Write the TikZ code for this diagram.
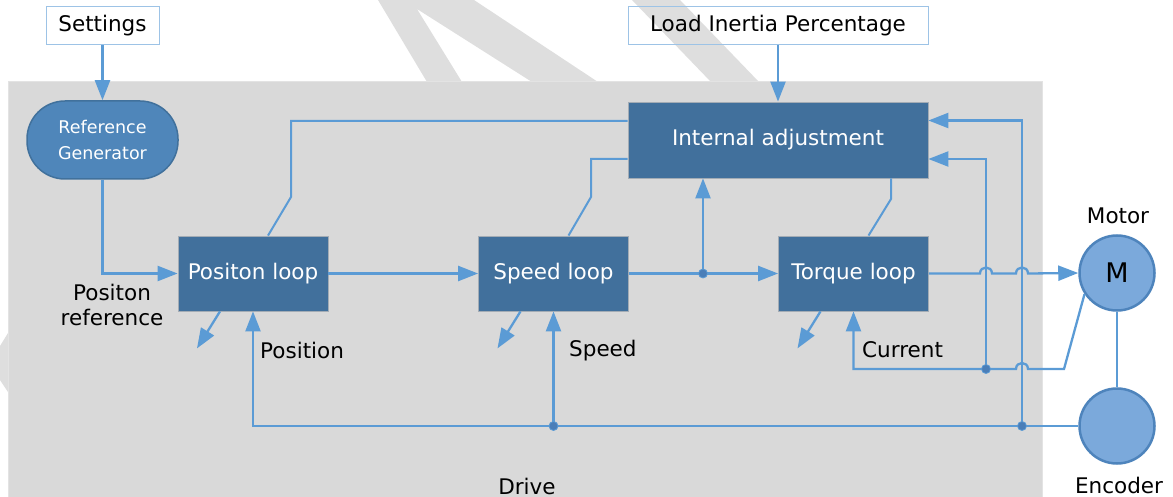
\documentclass[tikz,border=0pt]{standalone}
\usepackage{fontspec}
\setmainfont{DejaVu Sans}
\usetikzlibrary{arrows.meta,calc}
\definecolor{panelc}{HTML}{D9D9D9}
\definecolor{paneledge}{HTML}{E3E3E3}
\definecolor{boxblue}{HTML}{41709C}
\definecolor{boxedge}{HTML}{A3ACB5}
\definecolor{rgblue}{HTML}{4F86BA}
\definecolor{rgedge}{HTML}{41719C}
\definecolor{conn}{HTML}{5B9BD5}
\definecolor{motorfill}{HTML}{7BA9DB}
\definecolor{motoredge}{HTML}{4E84BC}
\definecolor{dotc}{HTML}{4A7EB8}
\definecolor{wm}{HTML}{DEDEDE}
\definecolor{inedge}{HTML}{9DC3E6}
\tikzset{
  txt/.style={font=\fontsize{21.5}{25}\selectfont, text=black, inner sep=0pt},
  loopbox/.style={draw=boxedge, line width=0.8pt, fill=boxblue, text=white,
    minimum width=150pt, minimum height=75pt, inner sep=0pt,
    font=\fontsize{21.5}{25}\selectfont},
  inbox/.style={draw=inedge, line width=1pt, minimum height=38pt, inner sep=0pt,
    font=\fontsize{21.5}{25}\selectfont},
  wheel/.style={circle, draw=motoredge, line width=2.5pt, fill=motorfill,
    minimum size=75pt, inner sep=0pt, font=\fontsize{27}{30}\selectfont},
  wire/.style={draw=conn, line width=2.3pt},
  arr/.style={wire, -{Triangle[length=20pt,width=15pt]}},
  link/.style={draw=conn, line width=2pt},
  dot/.style={fill=dotc, draw=conn, line width=0.8pt}
}
\begin{document}
\begin{tikzpicture}[x=1pt,y=-1pt]
\useasboundingbox (0,0) rectangle (1173,497);
% watermark bands
\fill[wm] (378,0) -- (474,0) -- (598,82) -- (532,82) -- (417,9) -- (462,82) -- (427,82) -- cycle;
\fill[wm] (632,0) -- (680,0) -- (759,82) -- (711,82) -- cycle;
\fill[wm] (8,333) -- (0,346) -- (0,380) -- (8,392) -- cycle;
% drive panel
\fill[panelc] (8,82) rectangle (1042,500);
\draw[paneledge, line width=1pt] (8,500) -- (8,82) -- (1042,82) -- (1042,500);

% nodes
\node[inbox, minimum width=113pt] (set) at (102.5,26) {Settings};
\node[inbox, minimum width=300pt] (lip) at (778,26) {Load Inertia Percentage};
\node[draw=rgedge, line width=1.5pt, fill=rgblue, text=white, rounded corners=38pt,
  minimum width=151pt, minimum height=78pt, inner sep=0pt, align=center,
  font=\fontsize{17.5}{26}\selectfont] (rg) at (102.5,140) {Reference\\Generator};
\node[loopbox, minimum width=300pt, minimum height=76pt] (ia) at (778,140) {Internal adjustment};
\node[loopbox] (pos) at (253,273.5) {Positon loop};
\node[loopbox] (spd) at (553.5,273.5) {Speed loop};
\node[loopbox] (trq) at (853.5,273.5) {Torque loop};
\node[wheel] (motor) at (1117,273) {M};
\node[wheel] (enc) at (1117,426) {};

% labels
\node[txt] (motorlbl) at (1118,216) {Motor};
\node[txt] (enclbl) at (1119,485) {Encoder};
\node[txt] (drivelbl) at (527,486) {Drive};
\node[txt, align=center] (preflbl) at (112,304.5) {Positon\\reference};
\node[txt, anchor=west] (poslbl) at (260,350) {Position};
\node[txt, anchor=west] (spdlbl) at (569,351) {Speed};
\node[txt, anchor=west] (curlbl) at (862,350) {Current};

% junction coordinates
\coordinate (j1) at (703,273.5);
\coordinate (jc) at (986,369);
\coordinate (je) at (1022,426);
\coordinate (js) at (553.5,426);

% forward path
\draw[arr] (set) -- (rg);
\draw[arr] (lip) -- (ia);
\draw[arr] (rg.south) |- (pos.west);
\draw[arr] (pos) -- (spd);
\draw[arr] (spd) -- (trq);
\draw[arr] (j1) -- (j1 |- ia.south);
\draw[arr] (trq.east) -- ($(jc |- trq.east)+(-6,0)$)
  .. controls ($(jc |- trq.east)+(-6,-8)$) and ($(jc |- trq.east)+(6,-8)$) .. ($(jc |- trq.east)+(6,0)$)
  -- ($(je |- trq.east)+(-6,0)$)
  .. controls ($(je |- trq.east)+(-6,-8)$) and ($(je |- trq.east)+(6,-8)$) .. ($(je |- trq.east)+(6,0)$)
  -- (motor.west);

% current feedback
\draw[arr] (motor.213) -- (1064,369) -- ($(je |- jc)+(6,0)$)
  .. controls ($(je |- jc)+(6,-8)$) and ($(je |- jc)+(-6,-8)$) .. ($(je |- jc)+(-6,0)$)
  -| (trq.south);
\draw[arr] (jc) |- (ia.east |- 0,159);
\draw[arr] (je) |- (ia.east |- 0,120.5);

% encoder feedback
\draw[wire] (motor) -- (enc);
\draw[arr] (enc.west) -| (pos.south);
\draw[arr] (js) -- (spd.south);

% internal adjustment links
\draw[link] (ia.west |- 0,121) -| (291,197) -- ($(pos.north)+(15,0)$);
\draw[link] (ia.west |- 0,159) -| (591,197) -- ($(spd.north)+(15,0)$);
\draw[link] (ia.south -| 891,0) -- (891,199) -- ($(trq.north)+(15,0)$);

% small outputs
\draw[arr] ($(pos.south)+(-33,0)$) -- ++(-23,37);
\draw[arr] ($(spd.south)+(-33,0)$) -- ++(-23,37);
\draw[arr] ($(trq.south)+(-33,0)$) -- ++(-23,37);

% junction dots
\foreach \p in {j1,jc,je,js} \draw[dot] (\p) circle (4.5pt);
\end{tikzpicture}
\end{document}
